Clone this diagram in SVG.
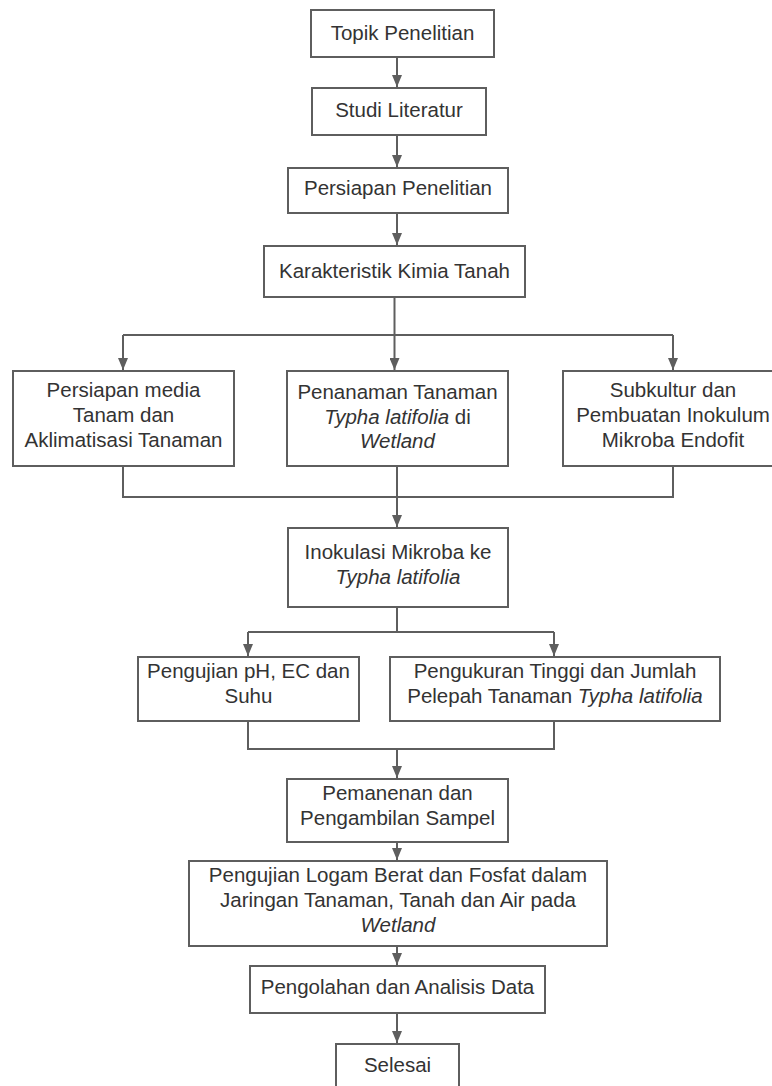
<svg xmlns="http://www.w3.org/2000/svg" width="772" height="1086" viewBox="0 0 772 1086">
<style>
.box{fill:#ffffff;stroke:#5e5e5e;stroke-width:2}
.t{font-family:"Liberation Sans",Arial,sans-serif;font-size:20.5px;fill:#333333;text-anchor:middle}
.i{font-style:italic}
.c{fill:none;stroke:#5e5e5e;stroke-width:2}
</style>
<defs>
<marker id="ah" viewBox="0 0 12 10" refX="12" refY="5" markerWidth="12" markerHeight="10" orient="auto" markerUnits="userSpaceOnUse">
<path d="M0,0 L12,5 L0,10 z" fill="#5e5e5e"/>
</marker>
</defs>
<rect width="772" height="1086" fill="#ffffff"/>
<g id="connectors">
<path class="c" d="M397,57 V87" marker-end="url(#ah)"/>
<path class="c" d="M397,135 V167" marker-end="url(#ah)"/>
<path class="c" d="M397,213 V245" marker-end="url(#ah)"/>
<path class="c" d="M394.5,297 V335"/>
<path class="c" d="M123,335 H673"/>
<path class="c" d="M123,335 V370" marker-end="url(#ah)"/>
<path class="c" d="M394.5,335 V370" marker-end="url(#ah)"/>
<path class="c" d="M673,335 V370" marker-end="url(#ah)"/>
<path class="c" d="M123,466 V497 H673 V466"/>
<path class="c" d="M397,466 V497"/>
<path class="c" d="M397,497 V527" marker-end="url(#ah)"/>
<path class="c" d="M397,607 V632"/>
<path class="c" d="M248,632 H554"/>
<path class="c" d="M248,632 V656" marker-end="url(#ah)"/>
<path class="c" d="M554,632 V656" marker-end="url(#ah)"/>
<path class="c" d="M248,721 V749 H554 V721"/>
<path class="c" d="M397,749 V778" marker-end="url(#ah)"/>
<path class="c" d="M397,842 V860" marker-end="url(#ah)"/>
<path class="c" d="M397,946 V965" marker-end="url(#ah)"/>
<path class="c" d="M397,1013 V1043" marker-end="url(#ah)"/>
</g>
<g id="n1">
<rect class="box" x="311" y="10" width="183" height="47"/>
<text class="t" x="402.5" y="40">Topik Penelitian</text>
</g>
<g id="n2">
<rect class="box" x="312" y="88" width="174" height="47"/>
<text class="t" x="399" y="117">Studi Literatur</text>
</g>
<g id="n3">
<rect class="box" x="288" y="168" width="220" height="45"/>
<text class="t" x="398" y="195">Persiapan Penelitian</text>
</g>
<g id="n4">
<rect class="box" x="264" y="246" width="261" height="51"/>
<text class="t" x="394.5" y="278">Karakteristik Kimia Tanah</text>
</g>
<g id="n5">
<rect class="box" x="13" y="371" width="221" height="95"/>
<text class="t" x="123.5" y="397">Persiapan media</text>
<text class="t" x="123.5" y="422">Tanam dan</text>
<text class="t" x="123.5" y="447">Aklimatisasi Tanaman</text>
</g>
<g id="n6">
<rect class="box" x="287" y="371" width="221" height="95"/>
<text class="t" x="397.5" y="399">Penanaman Tanaman</text>
<text class="t" x="397.5" y="424"><tspan class="i">Typha latifolia</tspan> di</text>
<text class="t" x="397.5" y="448"><tspan class="i">Wetland</tspan></text>
</g>
<g id="n7">
<rect class="box" x="563" y="371" width="220" height="95"/>
<text class="t" x="673" y="397">Subkultur dan</text>
<text class="t" x="673" y="422">Pembuatan Inokulum</text>
<text class="t" x="673" y="447">Mikroba Endofit</text>
</g>
<g id="n8">
<rect class="box" x="288" y="528" width="220" height="79"/>
<text class="t" x="398" y="559">Inokulasi Mikroba ke</text>
<text class="t" x="398" y="584"><tspan class="i">Typha latifolia</tspan></text>
</g>
<g id="n9">
<rect class="box" x="138" y="657" width="221" height="64"/>
<text class="t" x="248.5" y="678">Pengujian pH, EC dan</text>
<text class="t" x="248.5" y="703">Suhu</text>
</g>
<g id="n10">
<rect class="box" x="390" y="657" width="330" height="64"/>
<text class="t" x="555" y="678">Pengukuran Tinggi dan Jumlah</text>
<text class="t" x="555" y="703">Pelepah Tanaman <tspan class="i">Typha latifolia</tspan></text>
</g>
<g id="n11">
<rect class="box" x="287" y="779" width="221" height="63"/>
<text class="t" x="397.5" y="800">Pemanenan dan</text>
<text class="t" x="397.5" y="825">Pengambilan Sampel</text>
</g>
<g id="n12">
<rect class="box" x="189" y="861" width="418" height="85"/>
<text class="t" x="398" y="882">Pengujian Logam Berat dan Fosfat dalam</text>
<text class="t" x="398" y="907">Jaringan Tanaman, Tanah dan Air pada</text>
<text class="t" x="398" y="932"><tspan class="i">Wetland</tspan></text>
</g>
<g id="n13">
<rect class="box" x="250" y="966" width="295" height="47"/>
<text class="t" x="397.5" y="994">Pengolahan dan Analisis Data</text>
</g>
<g id="n14">
<rect class="box" x="336" y="1044" width="123" height="60"/>
<text class="t" x="397.5" y="1072">Selesai</text>
</g>
</svg>
